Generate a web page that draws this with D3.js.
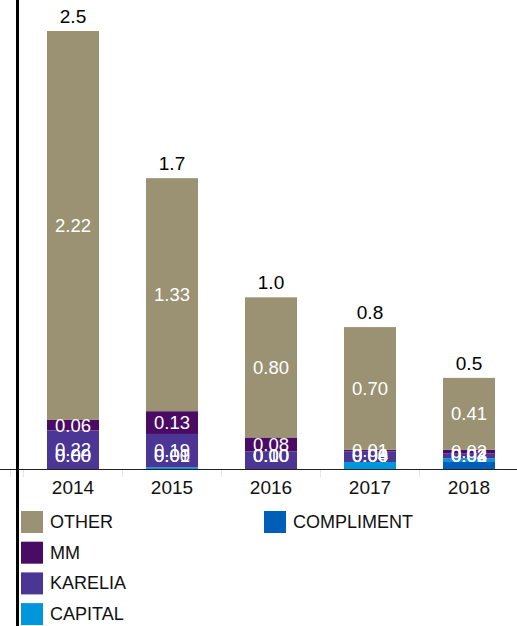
<!DOCTYPE html>
<html>
<head>
<meta charset="utf-8">
<script src="https://cdn.jsdelivr.net/npm/d3@7"></script>
<style>
  body { margin: 0; background: #fff; }
  svg { display: block; font-family: "Liberation Sans", Arial, sans-serif; }
</style>
</head>
<body>
<div id="chart"></div>
<script>
var years = ["2014", "2015", "2016", "2017", "2018"];
var seriesNames = ["COMPLIMENT", "CAPITAL", "KARELIA", "MM", "OTHER"];
var compliment = [0.00, 0.00, 0.00, 0.00, 0.04];
var capital    = [0.00, 0.01, 0.00, 0.04, 0.02];
var karelia    = [0.22, 0.19, 0.10, 0.06, 0.03];
var mm         = [0.06, 0.13, 0.08, 0.01, 0.02];
var other      = [2.22, 1.33, 0.80, 0.70, 0.41];
var legendOrder = ["OTHER", "MM", "KARELIA", "CAPITAL", "COMPLIMENT"];
var colors = {
  OTHER: "#9b9173",
  MM: "#4a0b65",
  KARELIA: "#4b3595",
  CAPITAL: "#0096dc",
  COMPLIMENT: "#005eb8"
};

var width = 517, height = 626;
var baseY = 469;

var rows = years.map(function(y, i){
  return { year: y, COMPLIMENT: compliment[i], CAPITAL: capital[i],
           KARELIA: karelia[i], MM: mm[i], OTHER: other[i] };
});

var svg = d3.select("#chart")
  .append("svg")
    .attr("width", width)
    .attr("height", height);

var x = d3.scaleBand()
  .domain(years)
  .range([23.5, 518.5])
  .paddingInner(0.475)
  .paddingOuter(0.2375);

var y = d3.scaleLinear()
  .domain([0, 2.5])
  .range([baseY, 31]);

var stack = d3.stack().keys(seriesNames);
var layers = stack(rows);

// bars
var layer = svg.selectAll("g.layer")
  .data(layers)
  .enter().append("g")
    .attr("class", "layer")
    .attr("fill", function(d){ return colors[d.key]; });

layer.selectAll("rect")
  .data(function(d){ return d; })
  .enter().append("rect")
    .attr("x", function(d){ return x(d.data.year); })
    .attr("width", x.bandwidth())
    .attr("y", function(d){ return y(d[1]); })
    .attr("height", function(d){ return y(d[0]) - y(d[1]); });

// segment value labels, drawn on top of all bars (kept above the axis)
var labelLayer = svg.selectAll("g.labels")
  .data(layers)
  .enter().append("g")
    .attr("class", "labels");

labelLayer.selectAll("text")
  .data(function(d){ return d; })
  .enter().append("text")
    .attr("x", function(d){ return x(d.data.year) + x.bandwidth()/2; })
    .attr("y", function(d){ return Math.min((y(d[0]) + y(d[1]))/2, baseY - 13); })
    .attr("dy", "0.35em")
    .attr("text-anchor", "middle")
    .attr("fill", "#fff")
    .style("font-size", "18.5px")
    .text(function(d){ return d3.format(".2f")(d[1] - d[0]); });

// totals above bars
svg.selectAll("text.total")
  .data(rows)
  .enter().append("text")
    .attr("class", "total")
    .attr("x", function(d){ return x(d.year) + x.bandwidth()/2; })
    .attr("y", function(d){
      var t = d3.sum(seriesNames, function(k){ return d[k]; });
      return y(t) - 8;
    })
    .attr("text-anchor", "middle")
    .attr("fill", "#000")
    .style("font-size", "19px")
    .text(function(d){
      return d3.format(".1f")(d3.sum(seriesNames, function(k){ return d[k]; }));
    });

// x axis
var xAxis = svg.append("g")
  .attr("transform", "translate(0," + baseY + ")");

xAxis.append("line")
  .attr("x1", 0).attr("x2", width)
  .attr("y1", 0.5).attr("y2", 0.5)
  .attr("stroke", "#222")
  .attr("stroke-width", 1);

var bounds = years.map(function(yr){ return x(yr) - x.step()*x.paddingInner()/2; });
bounds.push(x(years[years.length-1]) + x.bandwidth() + x.step()*x.paddingInner()/2);
bounds.unshift(10.5);

xAxis.selectAll("line.tick")
  .data(bounds)
  .enter().append("line")
    .attr("class", "tick")
    .attr("x1", function(d){ return d; })
    .attr("x2", function(d){ return d; })
    .attr("y1", 1).attr("y2", 8)
    .attr("stroke", "#e6e6e6");

xAxis.selectAll("text")
  .data(years)
  .enter().append("text")
    .attr("x", function(d){ return x(d) + x.bandwidth()/2; })
    .attr("y", 25)
    .attr("text-anchor", "middle")
    .attr("fill", "#111")
    .style("font-size", "19px")
    .text(function(d){ return d; });

// vertical line on the left
svg.append("line")
  .attr("x1", 17.5).attr("x2", 17.5)
  .attr("y1", 0).attr("y2", height)
  .attr("stroke", "#000")
  .attr("stroke-width", 3);

// legend, 4 rows per column
var legend = svg.selectAll("g.legend")
  .data(legendOrder)
  .enter().append("g")
    .attr("class", "legend")
    .attr("transform", function(d, i){
      var col = Math.floor(i/4), row = i%4;
      return "translate(" + (21 + col*243) + "," + (511 + row*30.7) + ")";
    });

legend.append("rect")
  .attr("width", 22)
  .attr("height", 22)
  .attr("fill", function(d){ return colors[d]; });

legend.append("text")
  .attr("x", 29)
  .attr("y", 17)
  .attr("fill", "#111")
  .style("font-size", "18px")
  .text(function(d){ return d; });
</script>
</body>
</html>
